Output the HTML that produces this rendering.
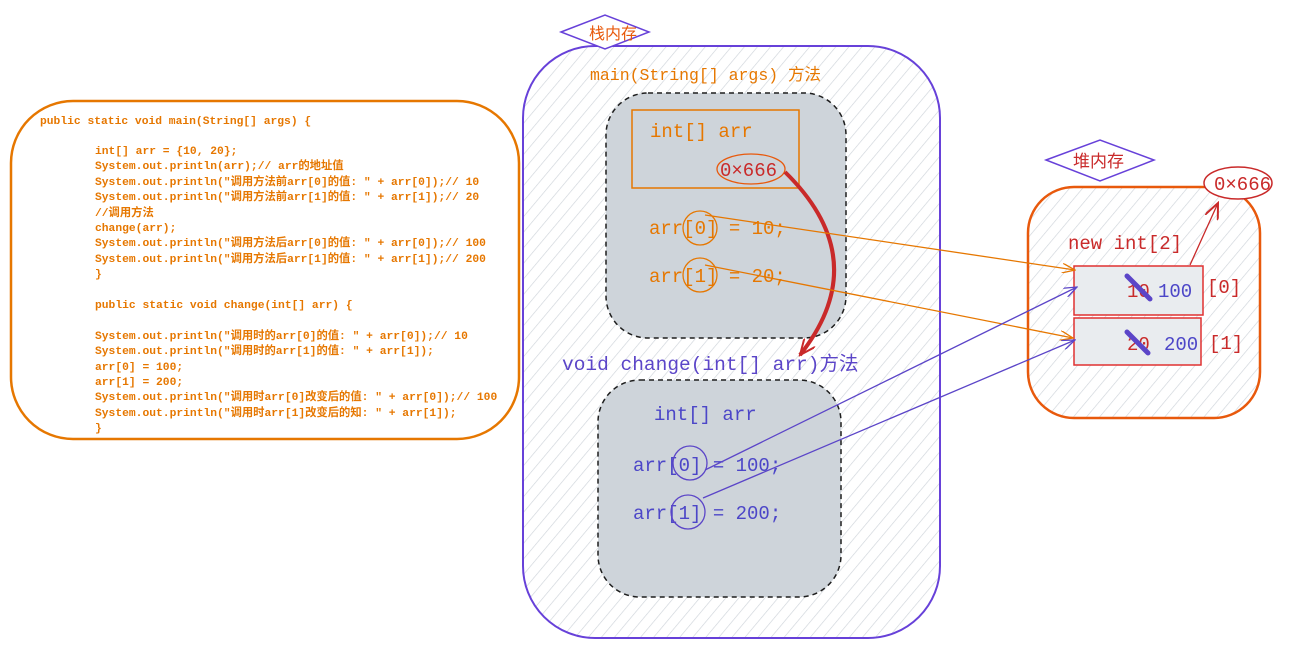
<!DOCTYPE html>
<html><head><meta charset="utf-8"><style>
body{margin:0;background:#fff;width:1294px;height:648px;overflow:hidden}
text{font-family:"Liberation Mono","Noto Sans CJK SC",monospace}
.code{font-size:11.3px;fill:#e67700;font-weight:bold}
.o{fill:#e67700;font-size:19px}
.b{fill:#4c46c8;font-size:19px}
.r{fill:#c92a2a;font-size:19px}
</style></head><body>
<svg width="1294" height="648" xmlns="http://www.w3.org/2000/svg">
<defs>
<pattern id="h" width="10" height="10" patternUnits="userSpaceOnUse" patternTransform="rotate(40)">
<line x1="0" y1="0" x2="0" y2="10" stroke="#ced4da" stroke-width="1.3"/>
</pattern>
<marker id="ao" markerWidth="14" markerHeight="10" refX="13" refY="5" orient="auto" markerUnits="userSpaceOnUse"><path d="M0,0 L13,5 L0,10" fill="none" stroke="#e67700" stroke-width="1.3"/></marker>
<marker id="ab" markerWidth="14" markerHeight="10" refX="13" refY="5" orient="auto" markerUnits="userSpaceOnUse"><path d="M0,0 L13,5 L0,10" fill="none" stroke="#5b45c8" stroke-width="1.3"/></marker>
<marker id="ar" markerWidth="18" markerHeight="14" refX="16" refY="7" orient="auto" markerUnits="userSpaceOnUse"><path d="M0,0 L16,7 L0,14" fill="none" stroke="#c92a2a" stroke-width="2"/></marker>
</defs>

<g>
<rect x="11" y="101" width="508" height="338" rx="62" fill="none" stroke="#e67700" stroke-width="2.5"/>
<text class="code" x="40" y="124">public static void main(String[] args) {</text>
<text class="code" x="95" y="154">int[] arr = {10, 20};</text>
<text class="code" x="95" y="169">System.out.println(arr);// arr的地址值</text>
<text class="code" x="95" y="185">System.out.println("调用方法前arr[0]的值: " + arr[0]);// 10</text>
<text class="code" x="95" y="200">System.out.println("调用方法前arr[1]的值: " + arr[1]);// 20</text>
<text class="code" x="95" y="216">//调用方法</text>
<text class="code" x="95" y="231">change(arr);</text>
<text class="code" x="95" y="246">System.out.println("调用方法后arr[0]的值: " + arr[0]);// 100</text>
<text class="code" x="95" y="262">System.out.println("调用方法后arr[1]的值: " + arr[1]);// 200</text>
<text class="code" x="95" y="277">}</text>
<text class="code" x="95" y="308">public static void change(int[] arr) {</text>
<text class="code" x="95" y="339">System.out.println("调用时的arr[0]的值: " + arr[0]);// 10</text>
<text class="code" x="95" y="354">System.out.println("调用时的arr[1]的值: " + arr[1]);</text>
<text class="code" x="95" y="370">arr[0] = 100;</text>
<text class="code" x="95" y="385">arr[1] = 200;</text>
<text class="code" x="95" y="400">System.out.println("调用时arr[0]改变后的值: " + arr[0]);// 100</text>
<text class="code" x="95" y="416">System.out.println("调用时arr[1]改变后的知: " + arr[1]);</text>
<text class="code" x="95" y="431">}</text>
</g>

<g>
<rect x="523" y="46" width="417" height="592" rx="72" fill="url(#h)" stroke="#6741d9" stroke-width="2"/>
<path d="M561,32 L605,15 L649,32 L605,49 Z" fill="#fff" stroke="#6741d9" stroke-width="1.5"/>
<text x="589" y="39" style="font-size:16px;fill:#e8590c">栈内存</text>
<text class="o" x="590" y="80" style="font-size:16.5px">main(String[] args) 方法</text>
<rect x="606" y="93" width="240" height="245" rx="42" fill="#ced4da" stroke="#1e1e1e" stroke-dasharray="5,4" stroke-width="1.5"/>
<rect x="632" y="110" width="167" height="78" fill="none" stroke="#e67700" stroke-width="1.5"/>
<text class="o" x="650" y="137">int[] arr</text>
<text class="r" x="720" y="176">0×666</text>
<ellipse cx="751" cy="169" rx="34" ry="15" fill="none" stroke="#e8590c" stroke-width="1.3"/>
<text class="o" x="649" y="234">arr[0] = 10;</text>
<text class="o" x="649" y="282">arr[1] = 20;</text>
<circle cx="700" cy="228" r="17" fill="none" stroke="#e67700" stroke-width="1.3"/>
<circle cx="700" cy="275" r="17" fill="none" stroke="#e67700" stroke-width="1.3"/>
<text x="562" y="370" style="font-size:19.5px;fill:#5b45c8">void change(int[] arr)方法</text>
<rect x="598" y="380" width="243" height="217" rx="42" fill="#ced4da" stroke="#1e1e1e" stroke-dasharray="5,4" stroke-width="1.5"/>
<text class="b" x="654" y="420">int[] arr</text>
<text class="b" x="633" y="471">arr[0] = 100;</text>
<text class="b" x="633" y="519">arr[1] = 200;</text>
<circle cx="690" cy="463" r="17" fill="none" stroke="#5b45c8" stroke-width="1.3"/>
<circle cx="688" cy="512" r="17" fill="none" stroke="#5b45c8" stroke-width="1.3"/>
<path d="M785,172 Q875,260 800,355" fill="none" stroke="#c92a2a" stroke-width="4" marker-end="url(#ar)"/>
</g>

<g>
<path d="M1046,160 L1100,140 L1154,160 L1100,181 Z" fill="#fff" stroke="#6741d9" stroke-width="1.5"/>
<text x="1073" y="167" style="font-size:17px;fill:#c92a2a">堆内存</text>
<rect x="1028" y="187" width="232" height="231" rx="46" fill="url(#h)" stroke="#e8590c" stroke-width="2.5"/>
<ellipse cx="1238" cy="183" rx="34" ry="16" fill="#fff" stroke="#c92a2a" stroke-width="1.5"/>
<text class="r" x="1214" y="190">0×666</text>
<text class="r" x="1068" y="249">new int[2]</text>
<rect x="1074" y="266" width="129" height="49" fill="#e9ecef" stroke="#e03131" stroke-width="1.5"/>
<rect x="1074" y="318" width="127" height="47" fill="#e9ecef" stroke="#e03131" stroke-width="1.5"/>
<text class="r" x="1127" y="297">10</text>
<text class="b" x="1158" y="297">100</text>
<text class="r" x="1127" y="350">20</text>
<text class="b" x="1164" y="350">200</text>
<line x1="1127" y1="276" x2="1150" y2="299" stroke="#5b45c8" stroke-width="5" stroke-linecap="round"/>
<line x1="1127" y1="332" x2="1148" y2="353" stroke="#5b45c8" stroke-width="5" stroke-linecap="round"/>
<text class="r" x="1207" y="293">[0]</text>
<text class="r" x="1209" y="349">[1]</text>
<line x1="1190" y1="265" x2="1218" y2="203" stroke="#c92a2a" stroke-width="1.3" marker-end="url(#ar)"/>
</g>

<g>
<line x1="705" y1="215" x2="1075" y2="270" stroke="#e67700" stroke-width="1.3" marker-end="url(#ao)"/>
<line x1="705" y1="265" x2="1073" y2="338" stroke="#e67700" stroke-width="1.3" marker-end="url(#ao)"/>
<line x1="705" y1="470" x2="1077" y2="287" stroke="#5b45c8" stroke-width="1.3" marker-end="url(#ab)"/>
<line x1="703" y1="498" x2="1075" y2="340" stroke="#5b45c8" stroke-width="1.3" marker-end="url(#ab)"/>
</g>
</svg>
</body></html>
